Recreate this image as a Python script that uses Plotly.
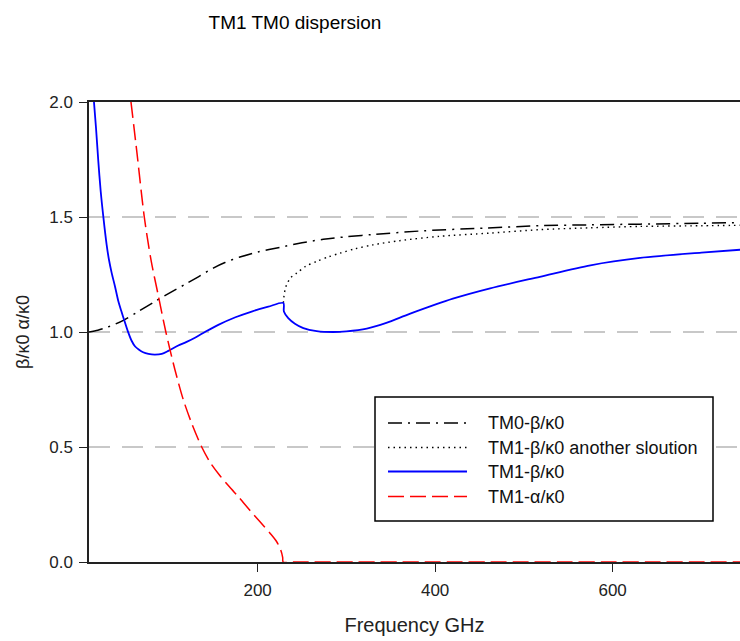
import plotly.graph_objects as go

# ---- data -------------------------------------------------------------
# TM0 mode, beta/k0
tm0_freq = [10, 20, 30, 40, 49.8, 65, 84.4, 100, 118.2, 133.2, 150, 163.2, 180,
            200, 225, 250, 274, 300, 330, 387, 458, 518, 575, 631, 700, 745]
tm0_beta = [1.0, 1.008, 1.02, 1.035, 1.053, 1.088, 1.133, 1.168, 1.207, 1.24,
            1.278, 1.302, 1.326, 1.348, 1.368, 1.388, 1.403, 1.414, 1.424, 1.440,
            1.452, 1.462, 1.466, 1.469, 1.473, 1.476]

# TM1 mode, second beta/k0 branch above the cut-off point
tm1b_freq = [229, 229.8, 231, 232.6, 237, 244, 254, 266.5, 280, 293, 310, 330,
             360, 405, 462, 518, 575, 631, 700, 745]
tm1b_beta = [1.126, 1.16, 1.185, 1.205, 1.235, 1.256, 1.285, 1.307, 1.327, 1.343,
             1.362, 1.379, 1.397, 1.416, 1.430, 1.445, 1.453, 1.459, 1.462, 1.464]

# TM1 mode, beta/k0
tm1_freq = [15.6, 17.9, 20.5, 23.2, 26.1, 29.9, 32.5, 35.6, 39.3, 43, 46.5, 49.8,
            53.6, 58, 62, 66, 71, 77, 84, 92, 99.4, 110, 120, 129.4, 142, 155.7,
            175, 193.3, 212, 229, 229.6, 234.5, 242, 251.5, 266.5, 285, 300, 323,
            345, 372, 420, 462, 518, 575, 631, 700, 745]
tm1_beta = [2.0, 1.887, 1.742, 1.611, 1.503, 1.379, 1.314, 1.256, 1.198, 1.135,
            1.09, 1.05, 1.005, 0.962, 0.937, 0.924, 0.912, 0.905, 0.902, 0.905,
            0.918, 0.94, 0.957, 0.975, 1.003, 1.031, 1.064, 1.089, 1.11, 1.126,
            1.089, 1.06, 1.036, 1.017, 1.004, 1.0, 1.003, 1.015, 1.04, 1.08, 1.145,
            1.19, 1.24, 1.29, 1.322, 1.345, 1.358]

# TM1 mode, alpha/k0 (attenuation, zero above cut-off)
tm1a_freq = [57.3, 64, 72.3, 80, 88, 96.6, 106.9, 116.3, 126, 137, 147, 157.6,
             168, 180, 191, 202.7, 214, 221.5, 226, 228.2, 228.8, 240, 745]
tm1a_alpha = [2.0, 1.78, 1.5, 1.31, 1.16, 1.0, 0.835, 0.705, 0.6, 0.5, 0.43, 0.375,
              0.328, 0.276, 0.226, 0.175, 0.125, 0.088, 0.052, 0.02, 0.0, 0.0, 0.0]

y_ticks = [0.0, 0.5, 1.0, 1.5, 2.0]
x_ticks = [200, 400, 600]

legend_names = ["TM0-β/κ0", "TM1-β/κ0 another sloution", "TM1-β/κ0", "TM1-α/κ0"]

# ---- styling ----------------------------------------------------------
FONT = "Liberation Sans, Arial, sans-serif"
W, H = 740, 641
ML, MR, MT, MB = 89, 0, 102, 79
PW, PH = W - ML - MR, H - MT - MB

DASHDOT = "14px,6px,2px,6px"
DOTTED = "1.5px,4px"
DASHED = "16px,6px"

styles = [
    dict(color="black", width=1.5, dash=DASHDOT),
    dict(color="black", width=1.4, dash=DOTTED),
    dict(color="#0000ff", width=1.8, dash="solid"),
    dict(color="#ff0000", width=1.5, dash=DASHED),
]

series = [
    (tm0_freq, tm0_beta),
    (tm1b_freq, tm1b_beta),
    (tm1_freq, tm1_beta),
    (tm1a_freq, tm1a_alpha),
]

fig = go.Figure()
for (xs, ys), name, st in zip(series, legend_names, styles):
    fig.add_trace(go.Scatter(x=xs, y=ys, mode="lines", name=name,
                             line=dict(st, shape="spline", smoothing=0.8),
                             showlegend=False))


def px_x(p):
    return (p - ML) / PW


def px_y(p):
    return (H - MB - p) / PH


# boxed key, drawn in paper coordinates
shapes = [dict(type="rect", xref="paper", yref="paper",
               x0=px_x(375), x1=px_x(713), y0=px_y(521), y1=px_y(397),
               line=dict(color="black", width=1.5), fillcolor="white",
               layer="above")]
annotations = []
row_y = [423, 447.5, 471.5, 496.5]
for name, st, ry in zip(legend_names, styles, row_y):
    shapes.append(dict(type="line", xref="paper", yref="paper",
                       x0=px_x(388), x1=px_x(467), y0=px_y(ry), y1=px_y(ry),
                       line=st, layer="above"))
    annotations.append(dict(xref="paper", yref="paper", x=px_x(486), y=px_y(ry),
                            text=name, showarrow=False, xanchor="left",
                            yanchor="middle",
                            font=dict(family=FONT, size=18, color="#111")))

fig.update_layout(
    width=W, height=H, autosize=False,
    margin=dict(l=ML, r=MR, t=MT, b=MB),
    paper_bgcolor="white", plot_bgcolor="white",
    title=dict(text="TM1 TM0 dispersion", x=px_x(295), xref="paper",
               xanchor="center", y=1 - 22 / H, yref="container",
               yanchor="middle",
               font=dict(family=FONT, size=19, color="black")),
    shapes=shapes, annotations=annotations,
    showlegend=False,
)

fig.update_xaxes(
    range=[10, 743.5], tickvals=x_ticks, ticks="outside", ticklen=8,
    tickwidth=1.3, tickcolor="#222", showline=True, linecolor="#222",
    linewidth=1.5, mirror=True, showgrid=False, zeroline=False,
    tickfont=dict(family=FONT, size=17, color="#222"), ticklabelstandoff=4,
    title=dict(text="Frequency GHz", standoff=19,
               font=dict(family=FONT, size=20, color="#222")),
    layer="below traces",
)
fig.update_yaxes(
    range=[0, 2.0], tickvals=y_ticks, tickformat=".1f", ticks="outside",
    ticklen=8, tickwidth=1.3, tickcolor="#222", showline=True,
    linecolor="#222", linewidth=1.5, zeroline=False,
    showgrid=True, gridcolor="#c8c8c8", gridwidth=1.5, griddash="21px,12px",
    tickfont=dict(family=FONT, size=17, color="#222"), ticklabelstandoff=3,
    title=dict(text="β/κ0 α/κ0", standoff=15,
               font=dict(family=FONT, size=18, color="#222")),
    layer="below traces",
)

fig.write_html("out.html")
